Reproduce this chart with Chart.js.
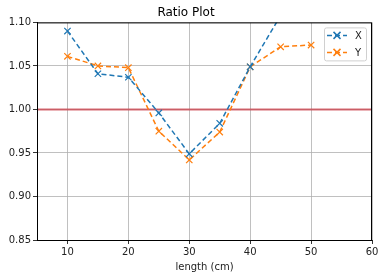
<!DOCTYPE html>
<html>
<head>
<meta charset="utf-8">
<script src="https://cdn.jsdelivr.net/npm/chart.js@4"></script>
<style>
  html, body { margin: 0; padding: 0; background: #fff; }
  #wrap { width: 384px; height: 278px; }
</style>
</head>
<body>
<div id="wrap"><canvas id="ratioChart" width="384" height="278"></canvas></div>
<script>
// data
const lengths = [10, 15, 20, 25, 30, 35, 40, 45, 50];
const xValues = [1.090, 1.041, 1.037, 0.996, 0.949, 0.984, 1.049, 1.108, 1.120];
const yValues = [1.061, 1.050, 1.048, 0.975, 0.942, 0.974, 1.049, 1.072, 1.074];
const xTicks = [10, 20, 30, 40, 50, 60];
const yTicks = [0.85, 0.90, 0.95, 1.00, 1.05, 1.10];
const refLine = 1.0;

const FONT = "'DejaVu Sans', sans-serif";
Chart.defaults.font.family = FONT;
Chart.defaults.color = '#222';

const toPoints = (vals) => vals.map((v, i) => ({ x: lengths[i], y: v }));

// red reference line + black frame + legend box inside the axes
const extras = {
  id: 'extras',
  beforeDatasetsDraw(chart) {
    const { ctx, chartArea: a, scales } = chart;
    const py = scales.y.getPixelForValue(refLine);
    ctx.save();
    ctx.strokeStyle = 'rgba(205,70,80,0.8)';
    ctx.lineWidth = 2;
    ctx.beginPath();
    ctx.moveTo(a.left, py);
    ctx.lineTo(a.right, py);
    ctx.stroke();
    ctx.restore();
  },
  afterDraw(chart) {
    const { ctx, chartArea: a } = chart;
    ctx.save();
    ctx.strokeStyle = '#000';
    ctx.lineWidth = 1;
    ctx.strokeRect(a.left + 0.5, a.top + 0.5, a.right - a.left - 1, a.bottom - a.top);

    // legend
    const bx = a.right - 48, by = a.top + 5, bw = 42, bh = 33;
    ctx.fillStyle = 'rgba(255,255,255,0.8)';
    ctx.strokeStyle = '#d0d0d0';
    ctx.beginPath();
    ctx.roundRect(bx + 0.5, by + 0.5, bw, bh, 2);
    ctx.fill();
    ctx.stroke();
    chart.data.datasets.forEach((ds, i) => {
      const ly = by + 8 + i * 17;
      ctx.strokeStyle = ds.borderColor;
      ctx.lineWidth = 1.5;
      ctx.setLineDash([5, 3]);
      ctx.beginPath();
      ctx.moveTo(bx + 3, ly);
      ctx.lineTo(bx + 23, ly);
      ctx.stroke();
      ctx.setLineDash([]);
      const cx = bx + 13, r = 3.5;
      ctx.beginPath();
      ctx.moveTo(cx - r, ly - r); ctx.lineTo(cx + r, ly + r);
      ctx.moveTo(cx - r, ly + r); ctx.lineTo(cx + r, ly - r);
      ctx.stroke();
      ctx.fillStyle = '#222';
      ctx.font = '10px ' + FONT;
      ctx.textBaseline = 'middle';
      ctx.fillText(ds.label, bx + 31, ly + 1);
    });
    ctx.restore();
  }
};

const series = (label, vals, color) => ({
  label: label,
  data: toPoints(vals),
  borderColor: color,
  backgroundColor: color,
  borderWidth: 1.5,
  borderDash: [5, 3],
  pointStyle: 'crossRot',
  pointRadius: 4.5,
  pointBorderWidth: 1.2,
  pointHoverRadius: 4.5,
  tension: 0
});

new Chart(document.getElementById('ratioChart').getContext('2d'), {
  type: 'line',
  data: {
    datasets: [
      series('X', xValues, '#1f77b4'),
      series('Y', yValues, '#ff7f0e')
    ]
  },
  options: {
    responsive: false,
    animation: false,
    layout: { padding: { left: 0, right: 12, top: 0, bottom: 5 } },
    plugins: {
      legend: { display: false },
      tooltip: { enabled: false },
      title: {
        display: true,
        text: 'Ratio Plot',
        font: { size: 12, weight: 'normal' },
        color: '#000',
        padding: { top: 6, bottom: 2 }
      }
    },
    scales: {
      x: {
        type: 'linear',
        min: 5,
        max: 60,
        afterBuildTicks: (s) => { s.ticks = xTicks.map(v => ({ value: v })); },
        afterFit: (s) => { s.height = 33; },
        grid: { color: '#b0b0b0', lineWidth: 0.8, tickColor: '#000', tickLength: 4 },
        border: { color: '#000' },
        ticks: { font: { size: 10 }, color: '#222', padding: 2, maxRotation: 0 },
        title: { display: true, text: 'length (cm)', font: { size: 10 }, color: '#222', padding: { top: 0, bottom: 0 } }
      },
      y: {
        min: 0.85,
        max: 1.10,
        afterBuildTicks: (s) => { s.ticks = yTicks.map(v => ({ value: v })); },
        afterFit: (s) => { s.width = 37; },
        grid: { color: '#b0b0b0', lineWidth: 0.8, tickColor: '#000', tickLength: 4 },
        border: { color: '#000' },
        ticks: { font: { size: 10 }, color: '#222', padding: 2, callback: (v) => v.toFixed(2) }
      }
    }
  },
  plugins: [extras]
});
</script>
</body>
</html>
